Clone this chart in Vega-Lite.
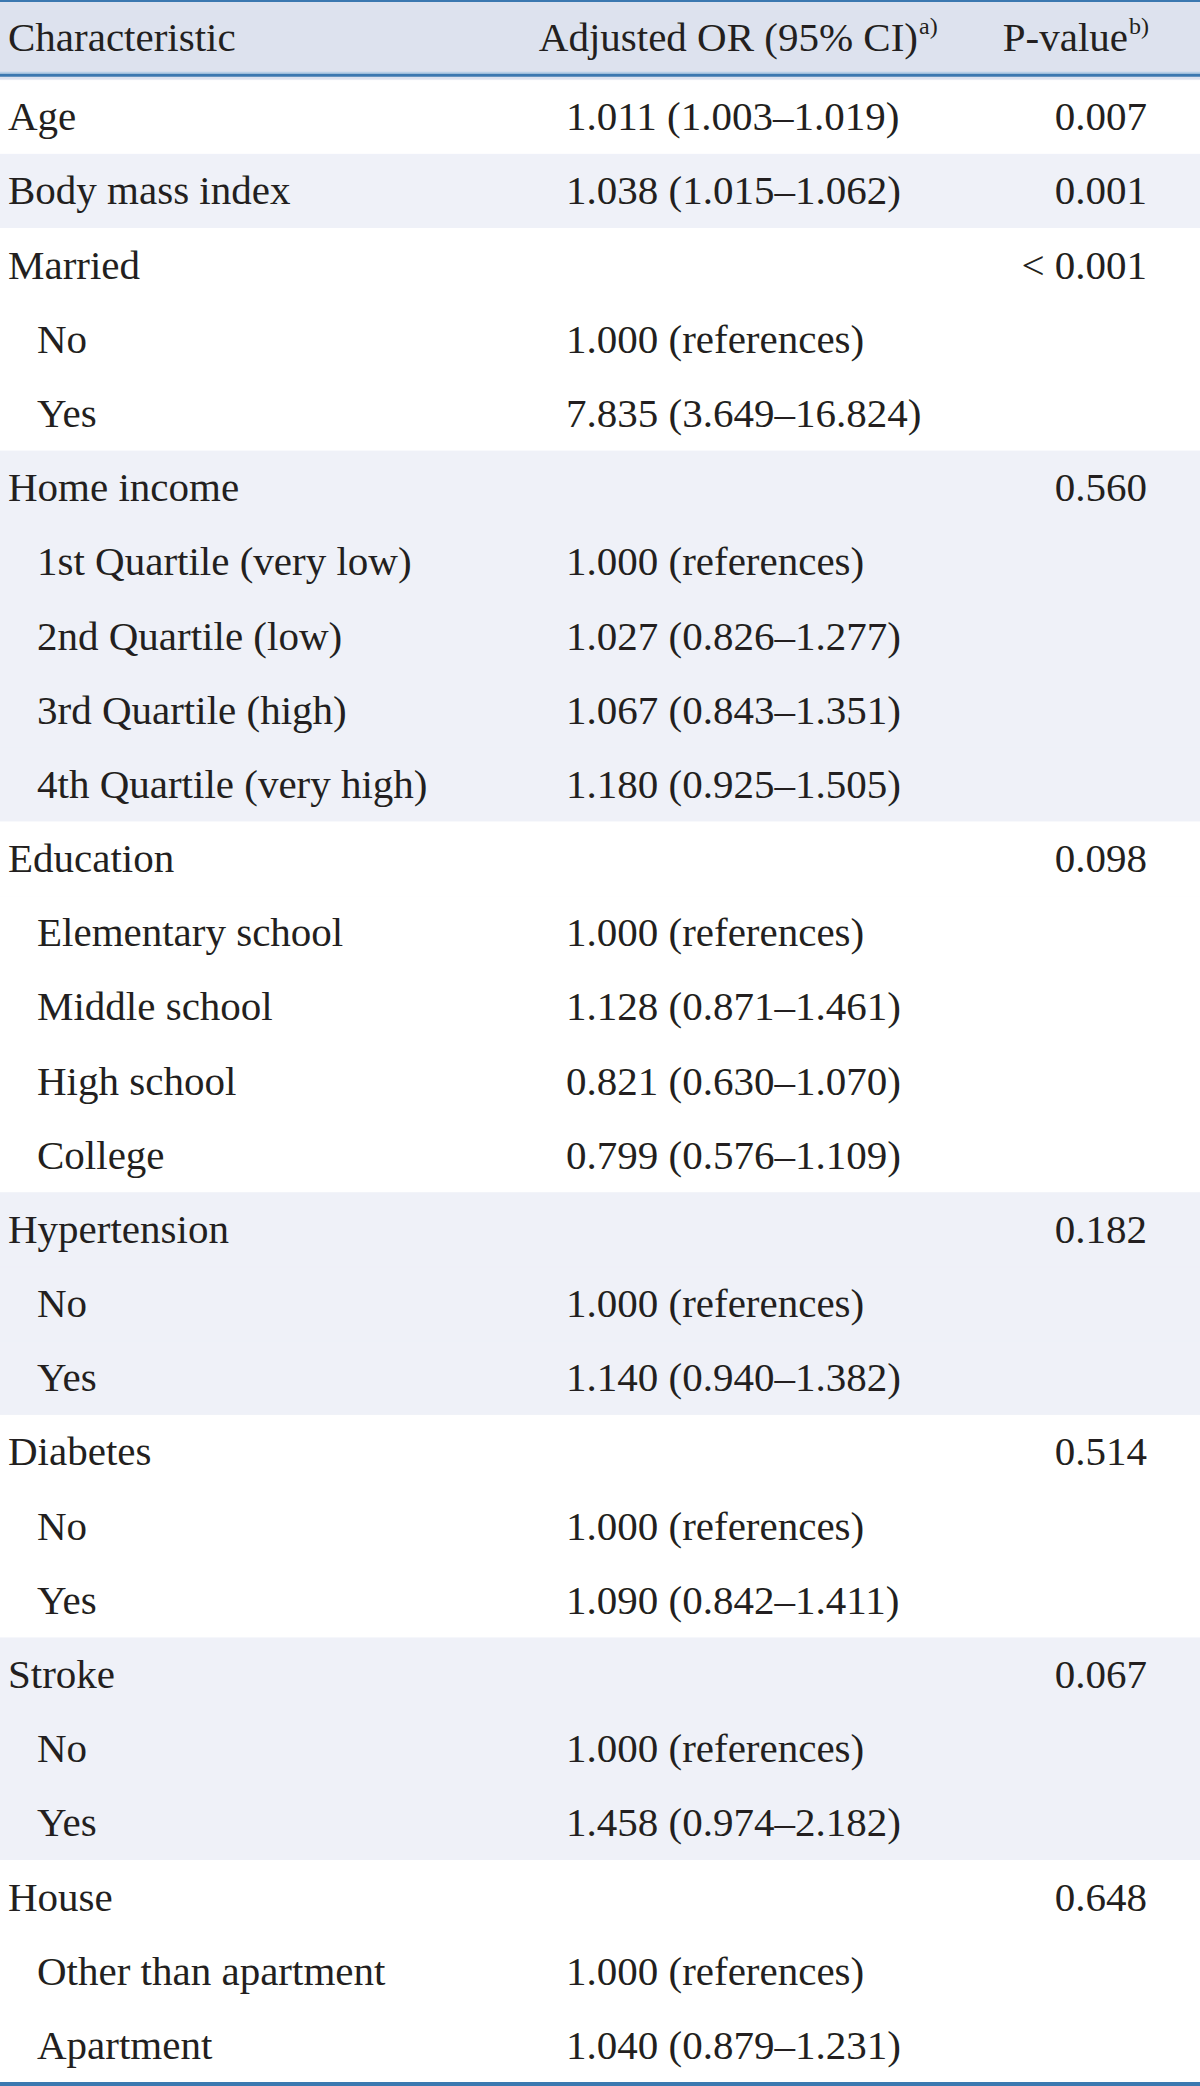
{
  "$schema": "https://vega.github.io/schema/vega-lite/v6.json",
  "width": 1200,
  "height": 2086,
  "padding": 0,
  "autosize": "none",
  "background": "white",
  "config": {"view": {"stroke": null, "fill": "#dde2ee"}},
  "datasets": {
    "header": [{"r": 0, "c": "Characteristic", "orh": "Adjusted OR (95% CI)", "orsup": "a)", "ph": "P-value", "psup": "b)"}],
    "rows": [
      {"r": 1, "c": "Age", "or": "1.011 (1.003–1.019)", "p": "0.007", "ind": 0, "sh": 0},
      {"r": 2, "c": "Body mass index", "or": "1.038 (1.015–1.062)", "p": "0.001", "ind": 0, "sh": 1},
      {"r": 3, "c": "Married", "or": "", "p": "< 0.001", "ind": 0, "sh": 0},
      {"r": 4, "c": "No", "or": "1.000 (references)", "p": "", "ind": 1, "sh": 0},
      {"r": 5, "c": "Yes", "or": "7.835 (3.649–16.824)", "p": "", "ind": 1, "sh": 0},
      {"r": 6, "c": "Home income", "or": "", "p": "0.560", "ind": 0, "sh": 1},
      {"r": 7, "c": "1st Quartile (very low)", "or": "1.000 (references)", "p": "", "ind": 1, "sh": 1},
      {"r": 8, "c": "2nd Quartile (low)", "or": "1.027 (0.826–1.277)", "p": "", "ind": 1, "sh": 1},
      {"r": 9, "c": "3rd Quartile (high)", "or": "1.067 (0.843–1.351)", "p": "", "ind": 1, "sh": 1},
      {"r": 10, "c": "4th Quartile (very high)", "or": "1.180 (0.925–1.505)", "p": "", "ind": 1, "sh": 1},
      {"r": 11, "c": "Education", "or": "", "p": "0.098", "ind": 0, "sh": 0},
      {"r": 12, "c": "Elementary school", "or": "1.000 (references)", "p": "", "ind": 1, "sh": 0},
      {"r": 13, "c": "Middle school", "or": "1.128 (0.871–1.461)", "p": "", "ind": 1, "sh": 0},
      {"r": 14, "c": "High school", "or": "0.821 (0.630–1.070)", "p": "", "ind": 1, "sh": 0},
      {"r": 15, "c": "College", "or": "0.799 (0.576–1.109)", "p": "", "ind": 1, "sh": 0},
      {"r": 16, "c": "Hypertension", "or": "", "p": "0.182", "ind": 0, "sh": 1},
      {"r": 17, "c": "No", "or": "1.000 (references)", "p": "", "ind": 1, "sh": 1},
      {"r": 18, "c": "Yes", "or": "1.140 (0.940–1.382)", "p": "", "ind": 1, "sh": 1},
      {"r": 19, "c": "Diabetes", "or": "", "p": "0.514", "ind": 0, "sh": 0},
      {"r": 20, "c": "No", "or": "1.000 (references)", "p": "", "ind": 1, "sh": 0},
      {"r": 21, "c": "Yes", "or": "1.090 (0.842–1.411)", "p": "", "ind": 1, "sh": 0},
      {"r": 22, "c": "Stroke", "or": "", "p": "0.067", "ind": 0, "sh": 1},
      {"r": 23, "c": "No", "or": "1.000 (references)", "p": "", "ind": 1, "sh": 1},
      {"r": 24, "c": "Yes", "or": "1.458 (0.974–2.182)", "p": "", "ind": 1, "sh": 1},
      {"r": 25, "c": "House", "or": "", "p": "0.648", "ind": 0, "sh": 0},
      {"r": 26, "c": "Other than apartment", "or": "1.000 (references)", "p": "", "ind": 1, "sh": 0},
      {"r": 27, "c": "Apartment", "or": "1.040 (0.879–1.231)", "p": "", "ind": 1, "sh": 0}
    ]
  },
  "resolve": {"scale": {"x": "shared", "y": "shared"}},
  "layer": [
    {
      "data": {"name": "rows"},
      "mark": {"type": "rect", "strokeWidth": 1},
      "encoding": {
        "y": {"field": "r", "type": "ordinal", "axis": null,
              "scale": {"domain": [0,1,2,3,4,5,6,7,8,9,10,11,12,13,14,15,16,17,18,19,20,21,22,23,24,25,26,27], "range": [6, 2083], "paddingInner": 0, "paddingOuter": 0}},
        "color": {"field": "sh", "type": "nominal", "legend": null,
                  "scale": {"domain": [0, 1], "range": ["#ffffff", "#eff1f8"]}},
        "stroke": {"field": "sh", "type": "nominal", "legend": null,
                  "scale": {"domain": [0, 1], "range": ["#ffffff", "#eff1f8"]}}
      }
    },
    {
      "data": {"name": "header"},
      "mark": {"type": "rule", "color": "#3b78b0", "strokeWidth": 4},
      "encoding": {"y": {"datum": 0, "type": "ordinal", "bandPosition": 0}, "yOffset": {"value": -6}}
    },
    {
      "data": {"name": "header"},
      "mark": {"type": "rule", "color": "#b7cfe7", "strokeWidth": 2, "yOffset": -7.5},
      "encoding": {"y": {"datum": 1, "type": "ordinal", "bandPosition": 0}}
    },
    {
      "data": {"name": "header"},
      "mark": {"type": "rule", "color": "#3b78b0", "strokeWidth": 3, "yOffset": -5},
      "encoding": {"y": {"datum": 1, "type": "ordinal", "bandPosition": 0}}
    },
    {
      "data": {"name": "header"},
      "mark": {"type": "rule", "color": "#3b78b0", "strokeWidth": 4, "yOffset": 1},
      "encoding": {"y": {"datum": 27, "type": "ordinal", "bandPosition": 1}}
    },
    {
      "data": {"name": "header"},
      "mark": {"type": "text", "font": "Liberation Serif", "fontSize": 41, "color": "#231f20", "align": "left", "baseline": "middle", "dy": -4},
      "encoding": {
        "y": {"field": "r", "type": "ordinal", "bandPosition": 0.5},
        "x": {"datum": 0, "type": "quantitative", "axis": null,
              "scale": {"domain": [0,1,2,3,4,5], "range": [8,37,566,918,1128,1147], "nice": false, "zero": false}},
        "text": {"field": "c"}
      }
    },
    {
      "data": {"name": "header"},
      "mark": {"type": "text", "font": "Liberation Serif", "fontSize": 41, "color": "#231f20", "align": "right", "baseline": "middle", "dy": -4},
      "encoding": {
        "y": {"field": "r", "type": "ordinal", "bandPosition": 0.5},
        "x": {"datum": 3, "type": "quantitative"},
        "text": {"field": "orh"}
      }
    },
    {
      "data": {"name": "header"},
      "mark": {"type": "text", "font": "Liberation Serif", "fontSize": 41, "color": "#231f20", "align": "right", "baseline": "middle", "dy": -4},
      "encoding": {
        "y": {"field": "r", "type": "ordinal", "bandPosition": 0.5},
        "x": {"datum": 4, "type": "quantitative"},
        "text": {"field": "ph"}
      }
    },
    {
      "data": {"name": "header"},
      "mark": {"type": "text", "font": "Liberation Serif", "fontSize": 24, "color": "#231f20", "align": "left", "baseline": "middle", "dx": 1, "dy": -16},
      "encoding": {
        "y": {"field": "r", "type": "ordinal", "bandPosition": 0.5},
        "x": {"datum": 3, "type": "quantitative"},
        "text": {"field": "orsup"}
      }
    },
    {
      "data": {"name": "header"},
      "mark": {"type": "text", "font": "Liberation Serif", "fontSize": 24, "color": "#231f20", "align": "left", "baseline": "middle", "dx": 1, "dy": -16},
      "encoding": {
        "y": {"field": "r", "type": "ordinal", "bandPosition": 0.5},
        "x": {"datum": 4, "type": "quantitative"},
        "text": {"field": "psup"}
      }
    },
    {
      "data": {"name": "rows"},
      "mark": {"type": "text", "font": "Liberation Serif", "fontSize": 41, "color": "#231f20", "align": "left", "baseline": "middle", "dy": 1},
      "encoding": {
        "y": {"field": "r", "type": "ordinal", "bandPosition": 0.5},
        "x": {"field": "ind", "type": "quantitative"},
        "text": {"field": "c"}
      }
    },
    {
      "data": {"name": "rows"},
      "mark": {"type": "text", "font": "Liberation Serif", "fontSize": 41, "color": "#231f20", "align": "left", "baseline": "middle", "dy": 1},
      "encoding": {
        "y": {"field": "r", "type": "ordinal", "bandPosition": 0.5},
        "x": {"datum": 2, "type": "quantitative"},
        "text": {"field": "or"}
      }
    },
    {
      "data": {"name": "rows"},
      "mark": {"type": "text", "font": "Liberation Serif", "fontSize": 41, "color": "#231f20", "align": "right", "baseline": "middle", "dy": 1},
      "encoding": {
        "y": {"field": "r", "type": "ordinal", "bandPosition": 0.5},
        "x": {"datum": 5, "type": "quantitative"},
        "text": {"field": "p"}
      }
    }
  ]
}
